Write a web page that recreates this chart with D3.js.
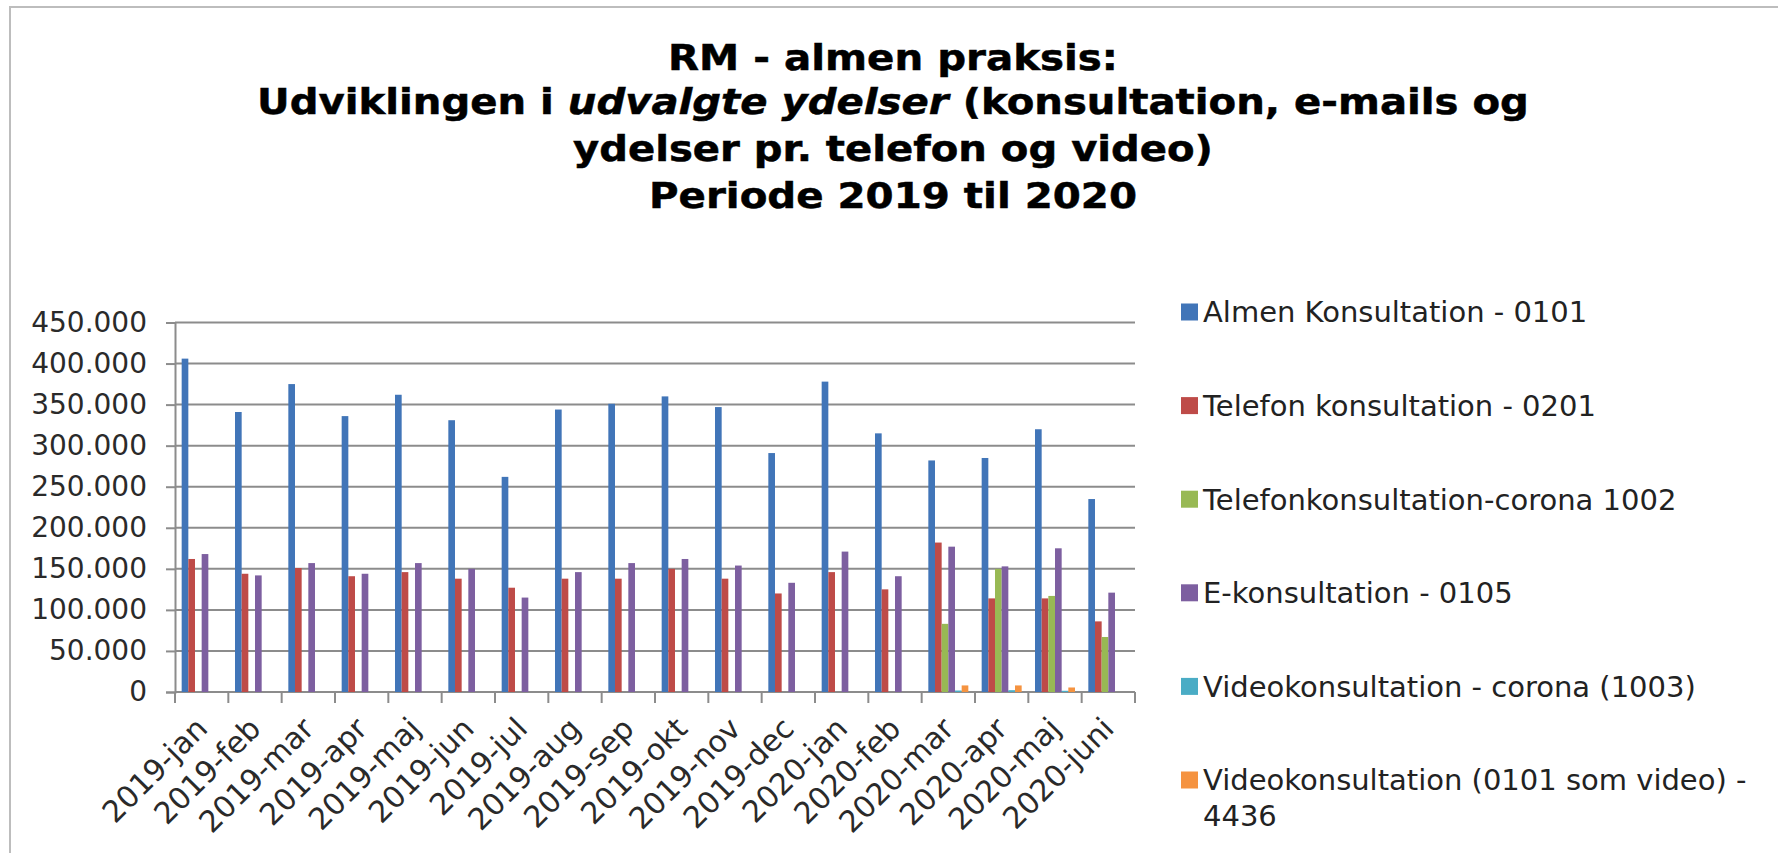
<!DOCTYPE html>
<html><head><meta charset="utf-8">
<script src="https://cdn.jsdelivr.net/npm/d3@7"></script>
<style>body{margin:0;background:#fff;} svg{display:block;}</style>
</head><body>
<svg id="chart" width="1778" height="853"></svg>
<script>
const categories = ["2019-jan","2019-feb","2019-mar","2019-apr","2019-maj","2019-jun","2019-jul","2019-aug","2019-sep","2019-okt","2019-nov","2019-dec","2020-jan","2020-feb","2020-mar","2020-apr","2020-maj","2020-juni"];
const seriesNames = ["Almen Konsultation - 0101","Telefon konsultation - 0201","Telefonkonsultation-corona 1002","E-konsultation - 0105","Videokonsultation - corona (1003)","Videokonsultation (0101 som video) - 4436"];
const almen      = [406000,341000,375000,336000,362000,331000,262000,344000,351000,360000,347000,291000,378000,315000,282000,285000,320000,235000];
const telefon    = [162000,144000,151000,141000,146000,138000,127000,138000,138000,150000,138000,120000,146000,125000,182000,114000,114000,86000];
const corona1002 = [null,null,null,null,null,null,null,null,null,null,null,null,null,null,83000,150000,117000,67000];
const ekons      = [168000,142000,157000,144000,157000,150000,115000,146000,157000,162000,154000,133000,171000,141000,177000,153000,175000,121000];
const video1003  = [null,null,null,null,null,null,null,null,null,null,null,null,null,null,1800,2200,1500,null];
const video4436  = [null,null,null,null,null,null,null,null,null,null,null,null,null,null,8000,8000,5500,null];
const yTicks = [0,50000,100000,150000,200000,250000,300000,350000,400000,450000];
const colors = ["#4175B8","#BE4B48","#98B954","#7D5FA0","#4AACC5","#F59340"];
const titleLines = [
  [{t:"RM - almen praksis:"}],
  [{t:"Udviklingen i "},{t:"udvalgte ydelser",i:true},{t:" (konsultation, e-mails og"}],
  [{t:"ydelser pr. telefon og video)"}],
  [{t:"Periode 2019 til 2020"}]
];

const seriesValues = [almen, telefon, corona1002, ekons, video1003, video4436];
const svg = d3.select("#chart");
const locale = d3.formatLocale({decimal:",", thousands:".", grouping:[3], currency:["",""]});
const fmt = locale.format(",d");

// frame
svg.append("rect").attr("x",10).attr("y",7).attr("width",1800).attr("height",900)
  .attr("fill","none").attr("stroke","#bdbdbd").attr("stroke-width",2);

// title
const titleW = [450,1272,640,488];
const titleY = [70,114,161,208];
titleLines.forEach((parts,i)=>{
  const t = svg.append("text").attr("text-anchor","middle")
    .attr("font-family","DejaVu Sans, Verdana, sans-serif").attr("font-weight","bold")
    .attr("font-size",35).attr("fill","#000").attr("stroke","#000").attr("stroke-width",0.5);
  parts.forEach(p=>{ t.append("tspan").attr("font-style",p.i?"italic":"normal").text(p.t); });
  const w = t.node().getComputedTextLength();
  t.attr("transform",`translate(893,${titleY[i]}) scale(${titleW[i]/w},1)`);
});

const x = d3.scaleBand().domain(categories).range([175,1135]).padding(0);
const xi = d3.scaleBand().domain(d3.range(seriesNames.length)).range([0,x.bandwidth()]).paddingInner(0).paddingOuter(1);
const y = d3.scaleLinear().domain([0,450000]).range([692,322.5]);

// gridlines
svg.append("g").selectAll("line").data(yTicks).join("line")
  .attr("x1",175).attr("x2",1135).attr("y1",d=>y(d)).attr("y2",d=>y(d))
  .attr("stroke","#8c8c8c").attr("stroke-width",2);

// y axis
const yAxis = svg.append("g").attr("transform","translate(175,0)")
  .call(d3.axisLeft(y).tickValues(yTicks).tickSize(9).tickPadding(19).tickFormat(fmt));
yAxis.select(".domain").attr("stroke","#8c8c8c").attr("stroke-width",2);
yAxis.selectAll(".tick line").attr("stroke","#8c8c8c").attr("stroke-width",2);
yAxis.selectAll(".tick text").attr("font-family","DejaVu Sans, Verdana, sans-serif")
  .attr("font-size",28).attr("fill","#2a2a2a");

// x ticks at category boundaries
const bounds = categories.map(c=>x(c)).concat([x.range()[1]]);
svg.append("g").selectAll("line").data(bounds).join("line")
  .attr("x1",d=>d).attr("x2",d=>d).attr("y1",692).attr("y2",703)
  .attr("stroke","#8c8c8c").attr("stroke-width",2);

// bars
seriesValues.forEach((vals,si)=>{
  svg.append("g").attr("fill",colors[si]).selectAll("rect")
    .data(vals.map((v,ci)=>({v,c:categories[ci]})).filter(d=>d.v!=null))
    .join("rect")
    .attr("x",d=>x(d.c)+xi(si)).attr("width",xi.bandwidth())
    .attr("y",d=>y(d.v)).attr("height",d=>y(0)-y(d.v));
});

// x labels
svg.append("g").selectAll("text").data(categories).join("text")
  .attr("text-anchor","end").attr("dy","0.35em")
  .attr("font-family","DejaVu Sans, Verdana, sans-serif").attr("font-size",30).attr("fill","#2a2a2a")
  .attr("transform",d=>`translate(${x(d)+x.bandwidth()/2},723) rotate(-45)`)
  .text(d=>d);

// legend
const lg = svg.append("g");
seriesNames.forEach((name,i)=>{
  const cy = 312 + i*93.6;
  lg.append("rect").attr("x",1181).attr("y",cy-8.5).attr("width",17).attr("height",17).attr("fill",colors[i]);
  const t = lg.append("text").attr("x",1203).attr("y",cy).attr("dy","0.36em")
    .attr("font-family","DejaVu Sans, Verdana, sans-serif").attr("font-size",29).attr("fill","#222");
  if (i===5) {
    t.append("tspan").attr("x",1203).text("Videokonsultation (0101 som video) -");
    t.append("tspan").attr("x",1203).attr("dy","1.21em").text("4436");
  } else t.text(name);
});
</script>
</body></html>
